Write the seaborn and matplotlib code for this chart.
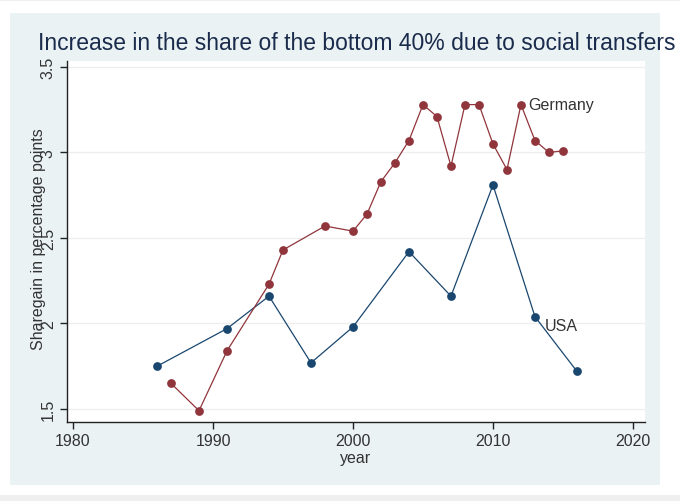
import numpy as np
import pandas as pd
import matplotlib
matplotlib.use("Agg")
import matplotlib.pyplot as plt
from matplotlib.patches import Rectangle
import seaborn as sns

# values
usa_years = [1986, 1991, 1994, 1997, 2000, 2004, 2007, 2010, 2013, 2016]
usa_gain = [1.75, 1.97, 2.16, 1.77, 1.98, 2.42, 2.16, 2.81, 2.04, 1.72]

ger_years = [1987, 1989, 1991, 1994, 1995, 1998, 2000, 2001, 2002, 2003, 2004,
             2005, 2006, 2007, 2008, 2009, 2010, 2011, 2012, 2013, 2014, 2015]
ger_gain = [1.65, 1.49, 1.84, 2.23, 2.43, 2.57, 2.54, 2.64, 2.83, 2.94, 3.07,
            3.28, 3.21, 2.92, 3.28, 3.28, 3.05, 2.90, 3.28, 3.07, 3.00, 3.01]

x_ticks = [1980, 1990, 2000, 2010, 2020]
y_ticks = [1.5, 2, 2.5, 3, 3.5]
y_tick_labels = ['1.5', '2', '2.5', '3', '3.5']

df = pd.concat([
    pd.DataFrame({'year': usa_years, 'gain': usa_gain, 'country': 'USA'}),
    pd.DataFrame({'year': ger_years, 'gain': ger_gain, 'country': 'Germany'}),
])

sns.set_style("white")
plt.rcParams['font.family'] = ['Liberation Sans', 'DejaVu Sans']

NAVY = '#1a476f'
MAROON = '#90353b'
TEXT = '#333333'

fig = plt.figure(figsize=(6.8, 5.02), dpi=100)
fig.patch.set_facecolor('white')

# stata-style outer panel and border strips
fig.add_artist(Rectangle((10 / 680, 1 - 486 / 502), 650 / 680, 472 / 502,
                         transform=fig.transFigure, facecolor='#eaf2f3',
                         edgecolor='none', zorder=0))
fig.add_artist(Rectangle((0, 0), 1, 6 / 502, transform=fig.transFigure,
                         facecolor='#efefef', edgecolor='none', zorder=0))
fig.add_artist(Rectangle((0, 1 - 2 / 502), 1, 2 / 502, transform=fig.transFigure,
                         facecolor='#efefef', edgecolor='none', zorder=0))

ax = fig.add_axes([67 / 680, 1 - 423 / 502, 578 / 680, 361 / 502])
ax.set_facecolor('white')

sns.lineplot(data=df, x='year', y='gain', hue='country',
             palette={'USA': NAVY, 'Germany': MAROON},
             marker='o', markersize=6.3, markeredgewidth=0, linewidth=0.9,
             legend=False, ax=ax)

ax.set_xlim(1979.57, 2020.86)
ax.set_ylim(1.424, 3.535)
ax.set_xticks(x_ticks)
ax.set_yticks(y_ticks)
ax.set_yticklabels(y_tick_labels, rotation=90, va='center')
ax.tick_params(axis='both', direction='out', length=5, width=1, color='#222222',
               labelsize=11.5, labelcolor=TEXT, pad=3)
ax.tick_params(axis='y', left=True)
ax.tick_params(axis='x', bottom=True)

ax.grid(axis='y', color='#eeeeee', linewidth=0.9)
ax.set_axisbelow(True)
for side in ['top', 'right']:
    ax.spines[side].set_visible(False)
for side in ['left', 'bottom']:
    ax.spines[side].set_color('#222222')
    ax.spines[side].set_linewidth(1)

ax.set_xlabel('year', fontsize=11.5, color=TEXT, labelpad=1)
ax.set_ylabel('Sharegain in percentage points', fontsize=11.5, color=TEXT)
ax.yaxis.set_label_coords(-0.036, 0.51)

ax.text(ger_years[-4] + 0.5, ger_gain[-4], 'Germany', fontsize=11.5,
        color=TEXT, va='center', ha='left')
ax.text(usa_years[-2] + 0.7, usa_gain[-2] - 0.05, 'USA', fontsize=11.5,
        color=TEXT, va='center', ha='left')

fig.text(38 / 680, 1 - 44 / 502, 'Increase in the share of the bottom 40% due to social transfers',
         fontsize=16.5, color='#1a2b4c', ha='left', va='center')

plt.savefig('out.png', dpi=100)
